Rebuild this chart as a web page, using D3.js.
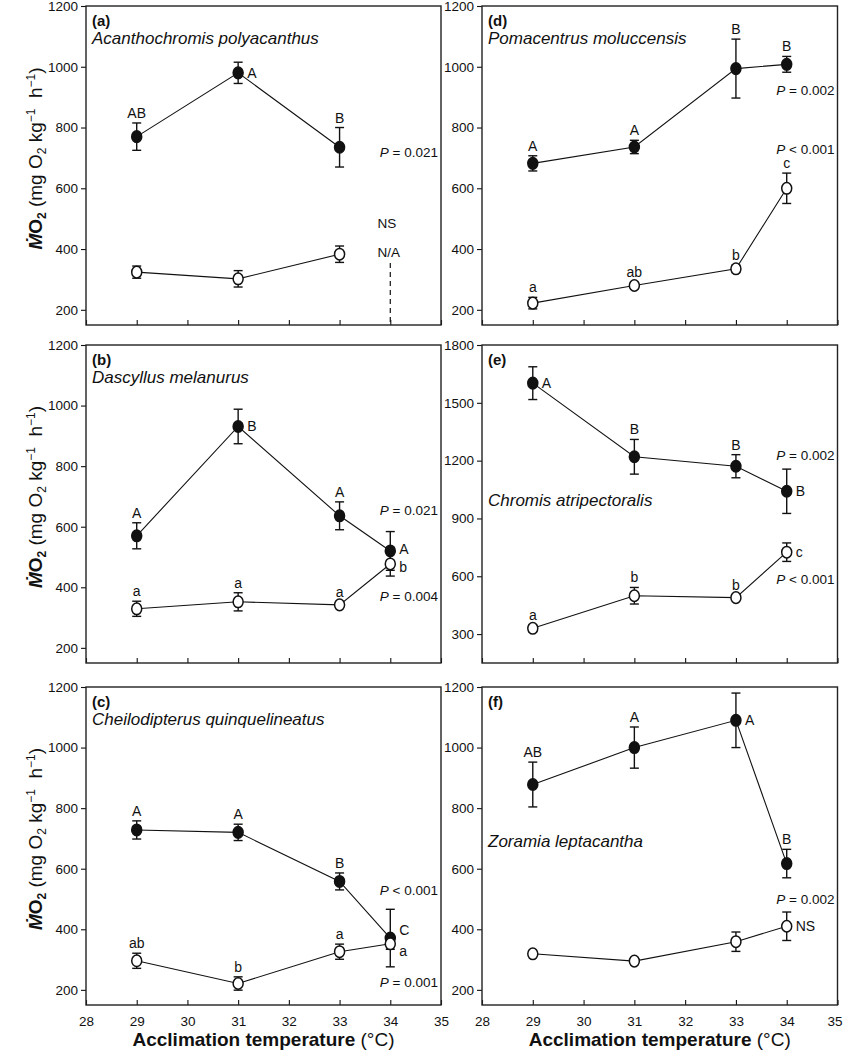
<!DOCTYPE html>
<html><head><meta charset="utf-8">
<script src="https://cdn.jsdelivr.net/npm/d3@7"></script>
<style>
body{margin:0;background:#fff}
svg{display:block}
text{font-family:"Liberation Sans", Arial, sans-serif;fill:#111}
</style>
</head><body>
<svg id="chart" width="844" height="1050"></svg>
<script>
// ---------- data ----------
const xTickValues = [28, 29, 30, 31, 32, 33, 34, 35];
const yTicksStd = [200, 400, 600, 800, 1000, 1200];
const yTicksE = [300, 600, 900, 1200, 1500, 1800];

// (a) Acanthochromis polyacanthus
const aTemps = [29, 31, 33];
const aMaxMean = [770, 980, 735];
const aMaxErr = [45, 35, 65];
const aRestMean = [324, 302, 383];
const aRestErr = [20, 27, 27];
const aMaxLetters = ["AB", "A", "B"];

// (d) Pomacentrus moluccensis
const dTemps = [29, 31, 33, 34];
const dMaxMean = [682, 736, 994, 1008];
const dMaxErr = [25, 22, 97, 26];
const dRestMean = [222, 280, 335, 600];
const dRestErr = [19, 10, 12, 50];
const dMaxLetters = ["A", "A", "B", "B"];
const dRestLetters = ["a", "ab", "b", "c"];

// (b) Dascyllus melanurus
const bTemps = [29, 31, 33, 34];
const bMaxMean = [570, 931, 636, 520];
const bMaxErr = [43, 57, 46, 64];
const bRestMean = [329, 352, 342, 477];
const bRestErr = [25, 30, 8, 40];
const bMaxLetters = ["A", "B", "A", "A"];
const bRestLetters = ["a", "a", "a", "b"];

// (e) Chromis atripectoralis
const eTemps = [29, 31, 33, 34];
const eMaxMean = [1602, 1220, 1171, 1041];
const eMaxErr = [85, 90, 60, 115];
const eRestMean = [330, 499, 489, 725];
const eRestErr = [18, 43, 12, 48];
const eMaxLetters = ["A", "B", "B", "B"];
const eRestLetters = ["a", "b", "b", "c"];

// (c) Cheilodipterus quinquelineatus
const cTemps = [29, 31, 33, 34];
const cMaxMean = [728, 720, 558, 371];
const cMaxErr = [30, 27, 28, 95];
const cRestMean = [296, 221, 326, 352];
const cRestErr = [25, 22, 25, 18];
const cMaxLetters = ["A", "A", "B", "C"];
const cRestLetters = ["ab", "b", "a", "a"];

// (f) Zoramia leptacantha
const fTemps = [29, 31, 33, 34];
const fMaxMean = [878, 1000, 1090, 617];
const fMaxErr = [74, 68, 90, 47];
const fRestMean = [319, 295, 359, 410];
const fRestErr = [6, 6, 32, 47];
const fMaxLetters = ["AB", "A", "A", "B"];
const fRestLetters = ["", "", "", "NS"];

// ---------- layout ----------
const cols = [{x0: 86, x1: 441}, {x0: 482, x1: 837.5}];
const rows = [{y0: 6, y1: 325}, {y0: 345, y1: 663}, {y0: 687, y1: 1005}];

const panels = [
  {tag: "(a)", species: "Acanthochromis polyacanthus", col: 0, row: 0,
   temps: aTemps, hi: aMaxMean, hiE: aMaxErr, lo: aRestMean, loE: aRestErr,
   hiL: aMaxLetters, hiPos: ["above", "right", "above"], loL: null, loPos: null,
   domain: [150, 1200], ticks: yTicksStd,
   p: [{txt: " = 0.021", v: 702}], extra: "na"},
  {tag: "(d)", species: "Pomacentrus moluccensis", col: 1, row: 0,
   temps: dTemps, hi: dMaxMean, hiE: dMaxErr, lo: dRestMean, loE: dRestErr,
   hiL: dMaxLetters, hiPos: ["above", "above", "above", "above"],
   loL: dRestLetters, loPos: ["above", "above", "above", "above"],
   domain: [150, 1200], ticks: yTicksStd,
   p: [{txt: " = 0.002", v: 908}, {txt: " < 0.001", v: 714}]},
  {tag: "(b)", species: "Dascyllus melanurus", col: 0, row: 1,
   temps: bTemps, hi: bMaxMean, hiE: bMaxErr, lo: bRestMean, loE: bRestErr,
   hiL: bMaxLetters, hiPos: ["above", "right", "above", "right"],
   loL: bRestLetters, loPos: ["above", "above", "above", "right"],
   hiDy: [0, 0, 0, -2], loDy: [0, 0, 0, 3],
   domain: [150, 1200], ticks: yTicksStd,
   p: [{txt: " = 0.021", v: 640}, {txt: " = 0.004", v: 354}]},
  {tag: "(e)", species: "Chromis atripectoralis", speciesV: 965, col: 1, row: 1,
   temps: eTemps, hi: eMaxMean, hiE: eMaxErr, lo: eRestMean, loE: eRestErr,
   hiL: eMaxLetters, hiPos: ["right", "above", "above", "right"],
   loL: eRestLetters, loPos: ["above", "above", "above", "right"],
   domain: [150, 1800], ticks: yTicksE,
   p: [{txt: " = 0.002", v: 1201}, {txt: " < 0.001", v: 562}]},
  {tag: "(c)", species: "Cheilodipterus quinquelineatus", col: 0, row: 2,
   temps: cTemps, hi: cMaxMean, hiE: cMaxErr, lo: cRestMean, loE: cRestErr,
   hiL: cMaxLetters, hiPos: ["above", "above", "above", "right"],
   loL: cRestLetters, loPos: ["above", "above", "above", "right"],
   hiDy: [0, 0, 0, -8], loDy: [0, 0, 0, 7],
   domain: [150, 1200], ticks: yTicksStd,
   p: [{txt: " < 0.001", v: 514}, {txt: " = 0.001", v: 208}]},
  {tag: "(f)", species: "Zoramia leptacantha", speciesV: 671, col: 1, row: 2,
   temps: fTemps, hi: fMaxMean, hiE: fMaxErr, lo: fRestMean, loE: fRestErr,
   hiL: fMaxLetters, hiPos: ["above", "above", "right", "above"],
   loL: fRestLetters, loPos: ["above", "above", "above", "right"],
   domain: [150, 1200], ticks: yTicksStd,
   p: [{txt: " = 0.002", v: 483}]}
];

const svg = d3.select("#chart");
const INK = "#111";
const FONT = '"Liberation Sans", Arial, sans-serif';

panels.forEach(P => {
  const c = cols[P.col], r = rows[P.row];
  const x = d3.scaleLinear().domain([28, 35]).range([c.x0, c.x1]);
  const y = d3.scaleLinear().domain(P.domain).range([r.y1, r.y0]);
  const g = svg.append("g");

  // y axis
  const ya = g.append("g").attr("transform", `translate(${c.x0},0)`)
    .call(d3.axisLeft(y).tickValues(P.ticks).tickSize(5).tickPadding(3)
      .tickFormat(d3.format("d")));
  ya.select(".domain").remove();
  ya.selectAll("line").attr("stroke", INK).attr("stroke-width", 1.1);
  ya.selectAll("text").attr("font-size", 13.5).attr("fill", INK).style("font-family", FONT);

  // x axis (ticks inward)
  const xa = g.append("g").attr("transform", `translate(0,${r.y1})`)
    .call(d3.axisBottom(x).tickValues(xTickValues).tickSize(-5).tickPadding(11)
      .tickFormat(P.row === 2 ? d3.format("d") : () => ""));
  xa.select(".domain").remove();
  xa.selectAll("line").attr("stroke", INK).attr("stroke-width", 1.1);
  xa.selectAll("text").attr("font-size", 13.5).attr("fill", INK).style("font-family", FONT);
  if (P.col === 1) {
    xa.selectAll(".tick").filter(d => d === 35).select("text").attr("dx", -3);
  }

  // frame
  g.append("rect").attr("x", c.x0).attr("y", r.y0)
    .attr("width", c.x1 - c.x0).attr("height", r.y1 - r.y0)
    .attr("fill", "none").attr("stroke", "#222").attr("stroke-width", 1.4);

  // panel tag & species
  g.append("text").attr("x", c.x0 + 6).attr("y", r.y0 + 20)
    .attr("font-size", 15).attr("font-weight", "bold").text(P.tag);
  g.append("text").attr("x", c.x0 + 6)
    .attr("y", P.speciesV ? y(P.speciesV) : r.y0 + 38)
    .attr("font-size", 17).attr("font-style", "italic").text(P.species);

  // P values
  P.p.forEach(pp => {
    const t = g.append("text").attr("x", c.x1 - 3).attr("y", y(pp.v))
      .attr("text-anchor", "end").attr("font-size", 13.5);
    t.append("tspan").attr("font-style", "italic").text("P");
    t.append("tspan").text(pp.txt);
  });

  if (P.extra === "na") {
    g.append("text").attr("x", x(33.75)).attr("y", y(470)).attr("font-size", 13.5).text("NS");
    g.append("text").attr("x", x(33.75)).attr("y", y(374)).attr("font-size", 13.5).text("N/A");
    g.append("line").attr("x1", x(34)).attr("x2", x(34))
      .attr("y1", y(354)).attr("y2", y(150))
      .attr("stroke", INK).attr("stroke-width", 1.2).attr("stroke-dasharray", "5,4");
  }

  const line = d3.line().x(d => x(d[0])).y(d => y(d[1]));

  function drawSeries(means, errs, filled, letters, pos, dys) {
    const pts = P.temps.map((t, i) => [t, means[i], errs[i]]);
    g.append("path").attr("d", line(pts)).attr("fill", "none")
      .attr("stroke", INK).attr("stroke-width", 1.1);
    const eb = g.append("g").attr("stroke", INK).attr("stroke-width", 1.4);
    pts.forEach(p => {
      const px = x(p[0]);
      eb.append("line").attr("x1", px).attr("x2", px)
        .attr("y1", y(p[1] - p[2])).attr("y2", y(p[1] + p[2]));
      [p[1] - p[2], p[1] + p[2]].forEach(v => {
        eb.append("line").attr("x1", px - 4.5).attr("x2", px + 4.5)
          .attr("y1", y(v)).attr("y2", y(v));
      });
    });
    g.selectAll(null).data(pts).enter().append("ellipse")
      .attr("cx", d => x(d[0])).attr("cy", d => y(d[1]))
      .attr("rx", 5).attr("ry", 5.8)
      .attr("fill", filled ? INK : "#fff").attr("stroke", INK).attr("stroke-width", 1.5);
    if (letters) {
      pts.forEach((p, i) => {
        if (!letters[i]) return;
        const dy = dys ? dys[i] : 0;
        const t = g.append("text").attr("font-size", 14).text(letters[i]);
        if (pos[i] === "above") {
          t.attr("x", x(p[0])).attr("y", y(p[1] + p[2]) - 5 + dy).attr("text-anchor", "middle");
        } else {
          t.attr("x", x(p[0]) + 9).attr("y", y(p[1]) + 5 + dy).attr("text-anchor", "start");
        }
      });
    }
  }
  drawSeries(P.hi, P.hiE, true, P.hiL, P.hiPos, P.hiDy);
  drawSeries(P.lo, P.loE, false, P.loL, P.loPos, P.loDy);

  // y title (left column)
  if (P.col === 0) {
    const cy = (r.y0 + r.y1) / 2 - 7;
    const t = g.append("text")
      .attr("transform", `translate(42,${cy}) rotate(-90)`)
      .attr("text-anchor", "middle").attr("font-size", 19);
    t.append("tspan").attr("font-weight", "bold").attr("font-style", "italic").text("\u1E40");
    t.append("tspan").attr("font-weight", "bold").text("O");
    t.append("tspan").attr("font-weight", "bold").attr("font-size", 12).attr("dy", 4).text("2");
    t.append("tspan").attr("dy", -4).text(" (mg O");
    t.append("tspan").attr("font-size", 12).attr("dy", 4).text("2");
    t.append("tspan").attr("dy", -4).text(" kg");
    t.append("tspan").attr("font-size", 12).attr("dy", -7).text("\u22121");
    t.append("tspan").attr("dy", 7).text("\u00A0 h");
    t.append("tspan").attr("font-size", 12).attr("dy", -7).text("\u22121");
    t.append("tspan").attr("dy", 7).text(")");
  }

  // x title (bottom row)
  if (P.row === 2) {
    const t = g.append("text").attr("x", (c.x0 + c.x1) / 2).attr("y", 1046)
      .attr("text-anchor", "middle").attr("font-size", 19);
    t.append("tspan").attr("font-weight", "bold").text("Acclimation temperature ");
    t.append("tspan").text("(\u00B0C)");
  }
});
</script>
</body></html>
